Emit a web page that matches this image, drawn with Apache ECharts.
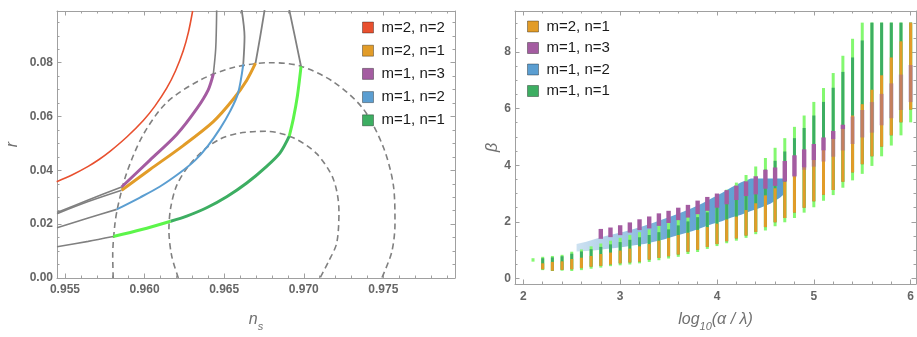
<!DOCTYPE html>
<html>
<head>
<meta charset="utf-8">
<script src="https://cdn.jsdelivr.net/npm/echarts@6/dist/echarts.min.js"></script>
<style>
  html, body { margin: 0; padding: 0; background: #fff; }
  #chart { width: 917px; height: 337px; }
</style>
</head>
<body>
<div id="chart"></div>
<script>
// ---------- left panel: r vs n_s ----------
const nsTicks = [0.955, 0.960, 0.965, 0.970, 0.975];
const rTicks = [0, 0.02, 0.04, 0.06, 0.08];

const redCurve = [[0.95448, 0.03580], [0.95544, 0.03829], [0.95646, 0.04149], [0.95714, 0.04402], [0.95783, 0.04704],
  [0.95890, 0.05248], [0.95992, 0.05852], [0.96065, 0.06386], [0.96139, 0.07051], [0.96194, 0.07691],
  [0.96243, 0.08441], [0.96276, 0.09145], [0.96302, 0.09920]];

const grayPurpleLow = [[0.9545, 0.0243], [0.95646, 0.0290], [0.95856, 0.0338]];
const purpleArc = [[0.95856, 0.0338], [0.96034, 0.0438], [0.96202, 0.0533], [0.96327, 0.0628], [0.96400, 0.0699], [0.96432, 0.0758]];
const grayPurpleTop = [[0.96432, 0.0758], [0.96447, 0.0853], [0.96453, 0.0995]];

const grayOrangeLow = [[0.9545, 0.0239], [0.95646, 0.0284], [0.95856, 0.0326]];
const orangeArc = [[0.95856, 0.0326], [0.96034, 0.0403], [0.96243, 0.0492], [0.96432, 0.0581], [0.96557, 0.0664],
  [0.96642, 0.0735], [0.96697, 0.0798]];
const grayOrangeTop = [[0.96697, 0.0798], [0.96725, 0.0892], [0.96754, 0.0995]];

const grayBlueLow = [[0.9545, 0.0187], [0.95646, 0.0223], [0.95825, 0.0255]];
const blueArc = [[0.95825, 0.0255], [0.95971, 0.0299], [0.96097, 0.0340], [0.96222, 0.0391], [0.96317, 0.0437],
  [0.96398, 0.0491], [0.96474, 0.0555], [0.96537, 0.0619], [0.96587, 0.0686], [0.96620, 0.0794]];
const grayBlueTop = [[0.96620, 0.0794], [0.96628, 0.0896], [0.96610, 0.0996]];

const grayGreenLow = [[0.9545, 0.0116], [0.95646, 0.0136], [0.95803, 0.0154]];
const greenOuterLow = [[0.95803, 0.0154], [0.95982, 0.0180], [0.96164, 0.0211]];
const greenInner = [[0.96164, 0.0211], [0.96265, 0.0230], [0.96390, 0.0261], [0.96516, 0.0302], [0.96642, 0.0353],
  [0.96767, 0.0415], [0.96851, 0.0465], [0.96909, 0.0527]];
const greenOuterHigh = [[0.96909, 0.0527], [0.96935, 0.0593], [0.96960, 0.0676], [0.96983, 0.0786]];
const grayGreenTop = [[0.96983, 0.0786], [0.96945, 0.0895], [0.96909, 0.0996]];

const contour2s = [[0.95803, 0], [0.95800, 0.0083], [0.95814, 0.0202], [0.95835, 0.0273], [0.95888, 0.0391],
  [0.95992, 0.0533], [0.96139, 0.0652], [0.96348, 0.0735], [0.96557, 0.0782], [0.96788, 0.0800], [0.96976, 0.0788],
  [0.97186, 0.0729], [0.97374, 0.0628], [0.97500, 0.0486], [0.97563, 0.0344], [0.97573, 0.0202], [0.97552, 0.0095], [0.97490, 0]];
const contour1s = [[0.96212, 0], [0.96170, 0.0083], [0.96153, 0.0178], [0.96164, 0.0261], [0.96202, 0.0344],
  [0.96275, 0.0415], [0.96369, 0.0474], [0.96474, 0.0516], [0.96600, 0.0539], [0.96767, 0.0545], [0.96934, 0.0521],
  [0.97081, 0.0462], [0.97186, 0.0367], [0.97221, 0.0249], [0.97207, 0.0130], [0.97154, 0.0059], [0.97102, 0]];

// ---------- right panel: beta vs log10(alpha/lambda) ----------
const logTicks = [2, 3, 4, 5, 6];
const betaTicks = [0, 2, 4, 6, 8];
const logX = [2.1, 2.2, 2.3, 2.4, 2.5, 2.6, 2.7, 2.8, 2.9, 3.0,
  3.1, 3.2, 3.3, 3.4, 3.5, 3.6, 3.7, 3.8, 3.9, 4.0,
  4.1, 4.2, 4.3, 4.4, 4.5, 4.6, 4.7, 4.8, 4.9, 5.0,
  5.1, 5.2, 5.3, 5.4, 5.5, 5.6, 5.7, 5.8, 5.9, 6.0];
const greenLo = [0.63, 0.33, 0.30, 0.31, 0.30, 0.33, 0.38, 0.42, 0.47, 0.50,
  0.53, 0.57, 0.62, 0.68, 0.74, 0.80, 0.90, 0.97, 1.08, 1.18,
  1.28, 1.37, 1.47, 1.60, 1.73, 1.88, 2.02, 2.17, 2.36, 2.55,
  2.78, 2.98, 3.24, 3.50, 3.73, 4.01, 4.35, 4.73, 5.09, 5.55];
const greenHi = [0.68, 0.73, 0.76, 0.80, 0.91, 0.99, 1.10, 1.20, 1.30, 1.40,
  1.50, 1.60, 1.70, 1.82, 1.95, 2.10, 2.27, 2.45, 2.65, 2.87,
  3.10, 3.35, 3.62, 3.92, 4.22, 4.58, 4.92, 5.32, 5.72, 6.20,
  6.69, 7.22, 7.83, 8.43, 9.00, 9.00, 9.00, 9.00, 9.00, 9.00];
const greenCoreHi = [null, 0.68, 0.71, 0.75, 0.84, 0.92, 1.00, 1.08, 1.17, 1.25,
  1.33, 1.42, 1.50, 1.60, 1.70, 1.84, 1.98, 2.13, 2.30, 2.50,
  2.70, 2.92, 3.15, 3.45, 3.81, 4.12, 4.45, 4.92, 5.28, 5.72,
  6.20, 6.70, 7.26, 7.77, 8.37, 9.00, 9.00, 9.00, 9.00, 9.00];
const orangeLo = [null, 0.36, 0.31, 0.34, 0.36, 0.40, 0.45, 0.48, 0.53, 0.57,
  0.60, 0.63, 0.70, 0.76, 0.82, 0.88, 0.98, 1.05, 1.15, 1.25,
  1.35, 1.45, 1.55, 1.68, 1.85, 2.02, 2.17, 2.36, 2.53, 2.76,
  2.99, 3.16, 3.45, 3.78, 4.07, 4.35, 4.69, 5.09, 5.55, 6.00];
const orangeHi = [null, 0.50, 0.55, 0.57, 0.65, 0.70, 0.76, 0.83, 0.88, 0.95,
  1.02, 1.10, 1.18, 1.30, 1.40, 1.50, 1.58, 1.68, 1.78, 1.90,
  2.05, 2.15, 2.38, 2.62, 2.90, 3.15, 3.38, 3.62, 3.92, 4.18,
  4.52, 4.92, 5.28, 5.72, 6.12, 6.63, 7.14, 7.77, 8.34, 9.00];
const purpleLo = [null, null, null, null, null, null, null, 1.40, 1.46, 1.53,
  1.62, 1.71, 1.77, 1.86, 1.96, 2.06, 2.15, 2.27, 2.39, 2.50,
  2.62, 2.77, 2.91, 2.97, 3.17, 3.27, 3.42, 3.58, 3.84, 3.95,
  4.13, 4.30, 4.52, 4.75, 4.98, 5.15, 5.41, 5.66, 5.95, 6.23];
const purpleHi = [null, null, null, null, null, null, null, 1.75, 1.80, 1.88,
  1.98, 2.09, 2.19, 2.30, 2.39, 2.50, 2.60, 2.75, 2.88, 3.00,
  3.12, 3.28, 3.43, 3.61, 3.84, 3.92, 4.15, 4.35, 4.56, 4.75,
  4.98, 5.21, 5.43, 5.72, 5.95, 6.23, 6.52, 6.89, 7.20, 7.54];
const blueX = [2.55, 2.65, 2.75, 2.85, 2.95, 3.05, 3.15, 3.25, 3.35, 3.45, 3.55, 3.65,
  3.75, 3.85, 3.95, 4.05, 4.15, 4.25, 4.35, 4.45, 4.55, 4.65, 4.70];
const blueLo = [0.95, 0.97, 1.00, 1.04, 1.08, 1.12, 1.17, 1.22, 1.30, 1.38, 1.48, 1.58,
  1.68, 1.80, 1.92, 2.02, 2.15, 2.25, 2.38, 2.50, 2.64, 2.85, 3.00];
const blueHi = [1.22, 1.30, 1.40, 1.50, 1.58, 1.66, 1.76, 1.86, 1.98, 2.10, 2.22, 2.36,
  2.50, 2.66, 2.84, 3.02, 3.22, 3.40, 3.53, 3.53, 3.53, 3.53, 3.53];

const C = {
  red: '#e8502f', orange: '#e29c28', purple: '#a45ca1', blue: '#5b9ed1',
  green: '#3dae62', lime: '#5cf54a', lime2: '#84f870', gray: '#808080'
};
const FRAME = '#a0a0a0';
const FONT = 'Liberation Sans';
const tickLabel = { color: '#666', fontWeight: 'bold', fontSize: 12, fontFamily: FONT };

function steps(min, max, step) {
  const out = [];
  for (let v = min; v <= max + 1e-9; v += step) out.push(+v.toFixed(6));
  return out;
}

// four-sided Mathematica style frame: major + minor ticks on every side
function frameAxes(dim, grid, min, max, major, minor, fmt, margin, nameOpt) {
  const sides = dim === 'x' ? ['bottom', 'top'] : ['left', 'right'];
  const base = { type: 'value', gridIndex: grid, min, max, splitLine: { show: false } };
  const out = [];
  sides.forEach((pos, k) => {
    out.push(Object.assign({}, base, k === 0 ? nameOpt : {}, {
      position: pos,
      axisLine: { show: true, onZero: false, lineStyle: { color: FRAME, width: 1 } },
      axisTick: { show: true, inside: true, length: 4.5, customValues: major, lineStyle: { color: FRAME } },
      axisLabel: k === 0
        ? Object.assign({ show: true, customValues: major, formatter: fmt, margin }, tickLabel)
        : { show: false }
    }));
    out.push(Object.assign({}, base, {
      position: pos,
      axisLine: { show: false, onZero: false },
      axisTick: { show: true, inside: true, length: 2.5, customValues: minor, lineStyle: { color: FRAME } },
      axisLabel: { show: false }
    }));
  });
  return out;
}

const nameStyle = {
  color: '#707070',
  rich: {
    i: { fontSize: 16, fontStyle: 'italic', fontFamily: FONT, color: '#707070', lineHeight: 24, verticalAlign: 'middle' },
    s: { fontSize: 11, fontStyle: 'italic', fontFamily: FONT, color: '#707070', lineHeight: 14, verticalAlign: 'bottom' }
  }
};

const xAxes = [].concat(
  frameAxes('x', 0, 0.9545, 0.9795, nsTicks, steps(0.955, 0.979, 0.001), v => v.toFixed(3), 6,
    { name: '{i|n}{s|s}', nameLocation: 'middle', nameGap: 30, nameMoveOverlap: false, nameTextStyle: nameStyle }),
  frameAxes('x', 1, 1.914, 6.055, logTicks, steps(2, 6, 0.2), v => String(v), 7,
    { name: '{i|log}{s|10}{i|(α / λ)}', nameLocation: 'middle', nameGap: 24, nameMoveOverlap: false, nameTextStyle: nameStyle })
);
const yAxes = [].concat(
  frameAxes('y', 0, 0, 0.0992, rTicks, steps(0, 0.095, 0.005), v => v.toFixed(2), 4,
    { name: '{i|r}', nameLocation: 'middle', nameGap: 32, nameMoveOverlap: false, nameTextStyle: nameStyle }),
  frameAxes('y', 1, -0.195, 9.446, betaTicks, steps(0, 9, 0.5), v => String(v), 4,
    { name: '{i|β}', nameLocation: 'middle', nameGap: 10, nameMoveOverlap: false, nameTextStyle: nameStyle })
);

function curve(name, data, color, width, dashed) {
  return {
    type: 'line', name, data, xAxisIndex: 0, yAxisIndex: 0,
    showSymbol: false, symbol: 'none', smooth: 0.3, silent: true,
    lineStyle: { color, width, type: dashed ? [6, 4] : 'solid', cap: 'butt' },
    itemStyle: { color }, z: dashed ? 2 : 3
  };
}

// vertical parameter-scan bars on the right panel
function bars(name, lo, hi, color, width, z) {
  const data = [];
  logX.forEach((x, i) => { if (lo[i] != null && hi[i] != null) data.push([x, lo[i], hi[i]]); });
  return {
    type: 'custom', name, xAxisIndex: 4, yAxisIndex: 4, data, z, silent: true,
    itemStyle: { color }, encode: { x: 0, y: [1, 2] },
    renderItem: (params, api) => {
      const a = api.coord([api.value(0), api.value(1)]);
      const b = api.coord([api.value(0), api.value(2)]);
      return {
        type: 'rect',
        shape: { x: a[0] - width / 2, y: b[1] - 1, width, height: Math.max(a[1] - b[1], 0) + 2 },
        style: { fill: color }
      };
    }
  };
}

const purpleSeries = {
  type: 'custom', name: 'm=1, n=3', xAxisIndex: 4, yAxisIndex: 4, z: 6, silent: true,
  itemStyle: { color: C.purple }, encode: { x: 0, y: [1, 2] },
  data: logX.map((x, i) => purpleLo[i] == null ? null : [x, purpleLo[i], purpleHi[i], orangeHi[i]]).filter(Boolean),
  renderItem: (params, api) => {
    const x = api.value(0), lo = api.value(1), hi = api.value(2), oh = api.value(3);
    const w = 4.4;
    const kids = [];
    const rect = (y0, y1, op) => {
      const a = api.coord([x, y0]), b = api.coord([x, y1]);
      kids.push({ type: 'rect', shape: { x: a[0] - w / 2, y: b[1], width: w, height: a[1] - b[1] },
        style: { fill: C.purple, opacity: op } });
    };
    if (hi > oh) rect(Math.max(lo, oh), hi, 1);
    if (lo < oh) rect(lo, Math.min(hi, oh), 0.45);
    return { type: 'group', children: kids };
  }
};

const blueSeries = {
  type: 'custom', name: 'm=1, n=2', xAxisIndex: 4, yAxisIndex: 4, z: 2, silent: true,
  itemStyle: { color: C.blue }, encode: { x: 0, y: [1, 2] },
  data: blueX.map((x, i) => [x, blueLo[i], blueHi[i]]),
  renderItem: (params, api) => {
    if (params.dataIndex !== 0) return null;
    const top = blueX.map((x, i) => api.coord([x, blueHi[i]]));
    const bot = blueX.map((x, i) => api.coord([x, blueLo[i]])).reverse();
    const x0 = top[0][0], x1 = top[top.length - 1][0];
    return {
      type: 'polygon', shape: { points: top.concat(bot) },
      style: {
        fill: {
          type: 'linear', x: x0, y: 0, x2: x1, y2: 0, global: true,
          colorStops: [
            { offset: 0, color: 'rgba(91,158,209,0.30)' },
            { offset: 0.25, color: 'rgba(91,158,209,0.6)' },
            { offset: 0.45, color: 'rgba(91,158,209,0.9)' },
            { offset: 1, color: 'rgba(91,158,209,1)' }
          ]
        }
      }
    };
  }
};

const legendBase = {
  orient: 'vertical', icon: 'rect', itemWidth: 11, itemHeight: 11, selectedMode: false, padding: 0,
  textStyle: { fontSize: 15, color: '#1a1a1a', fontFamily: FONT, padding: [0, 0, 0, 3] },
  itemStyle: { borderColor: 'rgba(0,0,0,0.35)', borderWidth: 1 }
};
const legendItem = (name, color) => ({ name, itemStyle: { color } });

const option = {
  animation: false,
  backgroundColor: '#fff',
  grid: [
    { left: 57, top: 11, width: 398, height: 279 },
    { left: 515, top: 11, width: 401, height: 282 }
  ],
  legend: [
    Object.assign({}, legendBase, {
      left: 362, top: 20, itemGap: 8.2,
      data: [legendItem('m=2, n=2', C.red), legendItem('m=2, n=1', C.orange), legendItem('m=1, n=3', C.purple),
        legendItem('m=1, n=2', C.blue), legendItem('m=1, n=1', C.green)]
    }),
    Object.assign({}, legendBase, {
      left: 527, top: 19, itemGap: 6.5,
      data: [legendItem('m=2, n=1', C.orange), legendItem('m=1, n=3', C.purple),
        legendItem('m=1, n=2', C.blue), legendItem('m=1, n=1', C.green)]
    })
  ],
  xAxis: xAxes,
  yAxis: yAxes,
  series: [
    curve('contour 2σ', contour2s, C.gray, 1.6, true),
    curve('contour 1σ', contour1s, C.gray, 1.6, true),
    curve('m=2, n=2', redCurve, C.red, 1.6),
    curve('gray', grayPurpleLow, C.gray, 1.6),
    curve('gray', grayPurpleTop, C.gray, 1.6),
    curve('gray', grayOrangeLow, C.gray, 1.6),
    curve('gray', grayOrangeTop, C.gray, 1.8),
    curve('gray', grayBlueLow, C.gray, 1.6),
    curve('gray', grayBlueTop, C.gray, 1.8),
    curve('gray', grayGreenLow, C.gray, 1.6),
    curve('gray', grayGreenTop, C.gray, 1.8),
    curve('m=1, n=3', purpleArc, C.purple, 3),
    curve('m=2, n=1', orangeArc, C.orange, 3),
    curve('m=1, n=2', blueArc, C.blue, 2),
    curve('m=1, n=1 2σ', greenOuterLow, C.lime, 3),
    curve('m=1, n=1', greenInner, C.green, 3),
    curve('m=1, n=1 2σ', greenOuterHigh, C.lime, 3),
    blueSeries,
    bars('m=1, n=1 2σ', greenLo, greenHi, C.lime2, 3, 3),
    bars('m=1, n=1', orangeLo, greenCoreHi, C.green, 3, 4),
    bars('m=2, n=1', orangeLo, orangeHi, C.orange, 3, 5),
    purpleSeries
  ]
};

const chart = echarts.init(document.getElementById('chart'), null, { renderer: 'canvas' });
chart.setOption(option);
</script>
</body>
</html>
